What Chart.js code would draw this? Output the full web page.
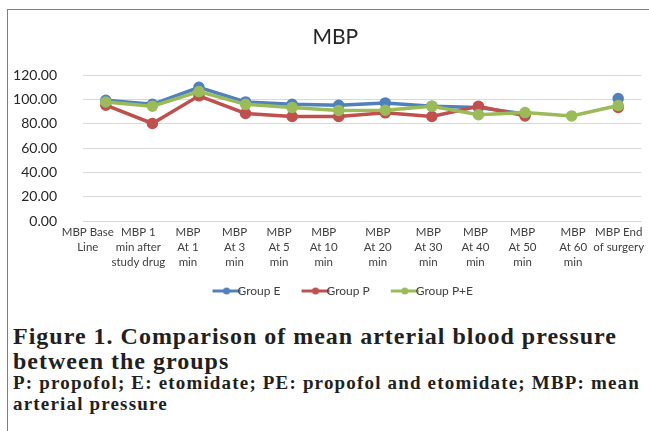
<!DOCTYPE html>
<html>
<head>
<meta charset="utf-8">
<script src="https://cdn.jsdelivr.net/npm/chart.js@4/dist/chart.umd.min.js"></script>
<style>
  body { margin: 0; background: #fff; }
  #wrap { position: relative; width: 649px; height: 431px; overflow: hidden; }
  #frame { position: absolute; left: 7px; top: 9px; width: 660px; height: 440px;
           border-left: 1px solid #7f7f7f; border-top: 1px solid #7f7f7f; }
  #box { position: absolute; left: 8px; top: 10px; width: 641px; height: 297px; }
  #caption { position: absolute; left: 13px; top: 323.5px; width: 636px;
             font-family: "Liberation Serif", serif; font-weight: bold; color: #231f20; }
  #caption div { white-space: nowrap; }
  #caption .big { font-size: 24px; line-height: 25px; }
  #caption .small { font-size: 19px; line-height: 22px; margin-top: -1.2px; }
</style>
</head>
<body>
<div id="wrap">
  <div id="frame"></div>
  <div id="box"><canvas id="mbpChart"></canvas></div>
  <div id="caption">
    <div class="big" data-fit="604">Figure 1. Comparison of mean arterial blood pressure</div>
    <div class="big">between the groups</div>
    <div class="small" data-fit="627">P: propofol; E: etomidate; PE: propofol and etomidate; MBP: mean</div>
    <div class="small">arterial pressure</div>
  </div>
</div>
<script>
const categories = [
    ['MBP Base', 'Line'], ['MBP 1', 'min after', 'study drug'], ['MBP', 'At 1', 'min'],
    ['MBP', 'At 3', 'min'], ['MBP', 'At 5', 'min'], ['MBP', 'At 10', 'min'],
    ['MBP', 'At 20', 'min'], ['MBP', 'At 30', 'min'], ['MBP', 'At 40', 'min'],
    ['MBP', 'At 50', 'min'], ['MBP', 'At 60', 'min'], ['MBP End', 'of surgery']
];
const groupE  = [99.4, 96, 110, 98, 96, 95.3, 97.2, 94.5, 93.5, 88, null, 100.8];
const groupP  = [95.3, 80.3, 103, 88.5, 86, 86, 89, 86, 94.5, 86.5, null, 93.5];
const groupPE = [98, 94.5, 106.5, 96, 93.5, 91, 91.2, 94.5, 87.5, 89.2, 86.5, 95];
const yTicks = [0, 20, 40, 60, 80, 100, 120];

const seriesNames = ['Group E', 'Group P', 'Group P+E'];
const seriesColors = ['#4f81bd', '#c0504d', '#9bbb59'];

// the category labels in the figure sit a bit left of their points (layout only)
const labelNudge = [-18, -14, -11, -11, -13, -15, -7.5, -3.5, -3, -2.5, 1.5, 0.5];

// caption: spread the letters so each long line gets the width it has in the picture
const big = document.querySelectorAll('#caption .big');
const small = document.querySelectorAll('#caption .small');
[big, small].forEach(group => {
    const ref = group[0];
    const target = parseFloat(ref.dataset.fit);
    const range = document.createRange();
    range.selectNodeContents(ref);
    const w = range.getBoundingClientRect().width;
    const ls = (target - w) / ref.textContent.length;
    group.forEach(el => { el.style.letterSpacing = ls + 'px'; });
});

// little line-with-dot picture for the legend, like Excel draws it
function legendIcon(color) {
    const c = document.createElement('canvas');
    c.width = 62; c.height = 10;
    const g = c.getContext('2d');
    g.strokeStyle = color;
    g.lineWidth = 3;
    g.beginPath(); g.moveTo(27, 5); g.lineTo(55, 5); g.stroke();
    g.fillStyle = color;
    g.beginPath(); g.arc(41, 5, 3.5, 0, Math.PI * 2); g.fill();
    return c;
}
const icons = seriesColors.map(legendIcon);

const nudgeLabels = {
    id: 'nudgeLabels',
    afterLayout(ch) {
        // title and legend sit a little right of the canvas centre in the figure
        ch.titleBlock.left += 8; ch.titleBlock.right += 8;
        ch.legend.left += 10; ch.legend.right += 10;
    },
    beforeDraw(ch) {
        const items = ch.scales.x.getLabelItems();
        items.forEach((it, i) => {
            if (!it._nudged) {
                it.options.translation[0] += labelNudge[i] || 0;
                it._nudged = true;
            }
        });
    }
};

const allData = [groupE, groupP, groupPE];
const datasets = allData.map((d, i) => ({
    label: seriesNames[i],
    data: d,
    borderColor: seriesColors[i],
    backgroundColor: seriesColors[i],
    borderWidth: 3.5,
    pointStyle: 'circle',
    pointRadius: 4,
    pointHoverRadius: 4,
    order: 3 - i
}));

const ctx = document.getElementById('mbpChart').getContext('2d');
const chart = new Chart(ctx, {
    type: 'line',
    data: { labels: categories, datasets: datasets },
    plugins: [nudgeLabels],
    options: {
        responsive: true,
        maintainAspectRatio: false,
        animation: false,
        layout: { padding: { left: 0, right: 2.5, top: 0, bottom: 0 } },
        elements: { line: { tension: 0 } },
        plugins: {
            title: {
                display: true,
                text: 'MBP',
                color: '#262626',
                font: { family: 'Lato', size: 21, weight: 'normal' },
                padding: { top: 14.5, bottom: 25.5 }
            },
            legend: {
                position: 'bottom',
                labels: {
                    usePointStyle: true,
                    pointStyleWidth: 30,
                    padding: 10,
                    color: '#404040',
                    font: { family: 'Lato', size: 12 },
                    generateLabels: (ch) => ch.data.datasets.map((ds, i) => ({
                        text: ds.label,
                        pointStyle: icons[i],
                        fillStyle: ds.borderColor,
                        strokeStyle: ds.borderColor,
                        fontColor: '#404040',
                        lineWidth: 0,
                        datasetIndex: i,
                        hidden: false
                    }))
                }
            },
            tooltip: { enabled: false }
        },
        scales: {
            x: {
                offset: true,
                grid: { display: false, drawTicks: false },
                border: { display: false },
                ticks: {
                    autoSkip: false,
                    maxRotation: 0,
                    minRotation: 0,
                    padding: 4,
                    color: '#404040',
                    font: { family: 'Lato', size: 11.5, lineHeight: 1.3 }
                },
                afterFit: (s) => { s.height = 54; }
            },
            y: {
                min: 0,
                max: 120,
                afterBuildTicks: (s) => { s.ticks = yTicks.map(v => ({ value: v })); },
                grid: { color: '#d9d9d9', lineWidth: 1, drawTicks: false },
                border: { display: false },
                ticks: {
                    padding: 25.5,
                    color: '#262626',
                    font: { family: 'Lato', size: 14 },
                    callback: (v) => Number(v).toFixed(2)
                },
                afterFit: (s) => { s.width = 74.5; }
            }
        }
    }
});
</script>
</body>
</html>
